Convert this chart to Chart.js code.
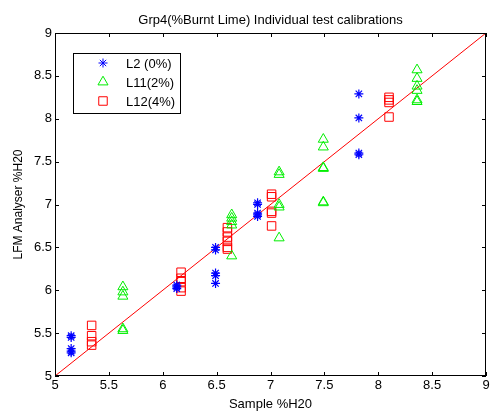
<!DOCTYPE html>
<html>
<head>
<meta charset="utf-8">
<script src="https://cdn.jsdelivr.net/npm/chart.js@4.4.0/dist/chart.umd.min.js"></script>
<style>
  html, body { margin: 0; padding: 0; background: #fff; }
  #wrap { width: 493px; height: 412px; }
</style>
</head>
<body>
<div id="wrap"><canvas id="chart" width="493" height="412"></canvas></div>
<script>
// data
const l2X = [5.15, 5.15, 5.15, 5.15, 5.15, 6.13, 6.13, 6.13, 6.49, 6.49, 6.49, 6.49, 6.49, 6.88, 6.88, 6.88, 6.88, 6.88, 7.82, 7.82, 7.82, 7.82];
const l2Y = [5.47, 5.45, 5.32, 5.29, 5.27, 6.06, 6.04, 6.02, 6.50, 6.47, 6.20, 6.17, 6.08, 7.02, 7.00, 6.90, 6.88, 6.86, 8.29, 8.01, 7.60, 7.58];

const l11X = [5.63, 5.63, 5.63, 5.63, 5.63, 6.64, 6.64, 6.64, 6.64, 6.64, 7.08, 7.08, 7.08, 7.08, 7.08, 7.49, 7.49, 7.49, 7.49, 7.49, 7.49, 8.36, 8.36, 8.36, 8.36, 8.36, 8.36];
const l11Y = [6.04, 5.98, 5.93, 5.55, 5.53, 6.88, 6.84, 6.80, 6.76, 6.40, 7.38, 7.35, 7.00, 6.97, 6.61, 7.76, 7.67, 7.43, 7.42, 7.03, 7.02, 8.57, 8.47, 8.38, 8.33, 8.22, 8.20];

const l12X = [5.34, 5.34, 5.34, 5.34, 6.17, 6.17, 6.17, 6.17, 6.17, 6.60, 6.60, 6.60, 6.60, 6.60, 6.60, 7.01, 7.01, 7.01, 7.01, 7.01, 8.10, 8.10, 8.10, 8.10];
const l12Y = [5.59, 5.47, 5.40, 5.36, 6.21, 6.14, 6.10, 6.03, 5.99, 6.73, 6.68, 6.62, 6.57, 6.50, 6.48, 7.12, 7.09, 6.92, 6.90, 6.75, 8.25, 8.22, 8.19, 8.02];

const fitX = [5, 9];
const fitY = [5, 9];
const tickValues = [5, 5.5, 6, 6.5, 7, 7.5, 8, 8.5, 9];
const seriesNames = ['L2 (0%)', 'L11(2%)', 'L12(4%)'];
const titleText = 'Grp4(%Burnt Lime) Individual test calibrations';

const pts = (xs, ys) => xs.map((x, i) => ({ x: x, y: ys[i] }));
const FONT = 'Arial, "Liberation Sans", sans-serif';

// MATLAB-like frame, inward ticks, title and legend
const matlabLook = {
  id: 'matlabLook',
  afterDraw(chart) {
    const ctx = chart.ctx;
    const a = chart.chartArea;
    const xs = chart.scales.x, ys = chart.scales.y;
    ctx.save();
    ctx.strokeStyle = '#000';
    ctx.lineWidth = 1;
    ctx.strokeRect(a.left + 0.5, a.top + 0.5, a.right - a.left - 1, a.bottom - a.top - 1);
    ctx.beginPath();
    tickValues.forEach(v => {
      const px = Math.round(xs.getPixelForValue(v)) + 0.5;
      ctx.moveTo(px, a.bottom); ctx.lineTo(px, a.bottom - 4);
      ctx.moveTo(px, a.top); ctx.lineTo(px, a.top + 4);
      const py = Math.round(ys.getPixelForValue(v)) + 0.5;
      ctx.moveTo(a.left, py); ctx.lineTo(a.left + 4, py);
      ctx.moveTo(a.right, py); ctx.lineTo(a.right - 4, py);
    });
    ctx.stroke();

    // title
    ctx.fillStyle = '#000';
    ctx.font = '13px ' + FONT;
    ctx.textAlign = 'center';
    ctx.textBaseline = 'middle';
    ctx.fillText(titleText, (a.left + a.right) / 2, 20);

    // legend
    const lx = 73, ly = 53, lw = 107, lh = 60;
    ctx.fillStyle = '#fff';
    ctx.fillRect(lx, ly, lw, lh);
    ctx.strokeStyle = '#000';
    ctx.strokeRect(lx + 0.5, ly + 0.5, lw, lh);
    chart.data.datasets.slice(0, 3).forEach((ds, i) => {
      const cy = ly + 10 + i * 19;
      ctx.strokeStyle = ds.borderColor;
      ctx.fillStyle = 'rgba(0,0,0,0)';
      ctx.lineWidth = 1;
      Chart.helpers.drawPoint(ctx, {
        pointStyle: ds.pointStyle, radius: ds.pointRadius, borderWidth: 1
      }, 103, cy);
      ctx.fillStyle = '#000';
      ctx.textAlign = 'left';
      ctx.fillText(seriesNames[i], 126, cy + 1);
    });
    ctx.restore();
  }
};

new Chart(document.getElementById('chart'), {
  type: 'scatter',
  data: {
    datasets: [
      { label: seriesNames[0], data: pts(l2X, l2Y), pointStyle: 'star', pointRadius: 4.5,
        borderColor: '#0000ff', backgroundColor: 'rgba(0,0,0,0)', borderWidth: 1.2 },
      { label: seriesNames[1], data: pts(l11X, l11Y), pointStyle: 'triangle', pointRadius: 5.8,
        borderColor: '#00ee00', backgroundColor: 'rgba(0,0,0,0)', borderWidth: 1 },
      { label: seriesNames[2], data: pts(l12X, l12Y), pointStyle: 'rect', pointRadius: 6,
        borderColor: '#ff0000', backgroundColor: 'rgba(0,0,0,0)', borderWidth: 1 },
      { label: 'fit', data: pts(fitX, fitY), showLine: true, pointRadius: 0,
        borderColor: '#ff0000', borderWidth: 1, fill: false }
    ]
  },
  options: {
    responsive: false,
    animation: false,
    layout: { padding: { top: 33, right: 6, left: 0, bottom: 0 } },
    plugins: { legend: { display: false }, title: { display: false }, tooltip: { enabled: false } },
    scales: {
      x: {
        type: 'linear', min: 5, max: 9,
        afterBuildTicks: s => { s.ticks = tickValues.map(v => ({ value: v })); },
        afterFit: s => { s.height = 36; },
        grid: { display: false, drawTicks: false },
        border: { display: false },
        ticks: { color: '#000', font: { family: FONT, size: 13 }, padding: 2, maxRotation: 0,
          callback: v => String(v) },
        title: { display: true, text: 'Sample %H20', color: '#000', font: { family: FONT, size: 13 }, padding: { top: 0, bottom: 0 } }
      },
      y: {
        type: 'linear', min: 5, max: 9,
        afterBuildTicks: s => { s.ticks = tickValues.map(v => ({ value: v })); },
        afterFit: s => { s.width = 55; },
        grid: { display: false, drawTicks: false },
        border: { display: false },
        ticks: { color: '#000', font: { family: FONT, size: 13 }, padding: 3,
          callback: v => String(v) },
        title: { display: true, text: 'LFM Analyser %H20', color: '#000', font: { family: FONT, size: 12 }, padding: { top: 11, bottom: 0 } }
      }
    }
  },
  plugins: [matlabLook]
});
</script>
</body>
</html>
